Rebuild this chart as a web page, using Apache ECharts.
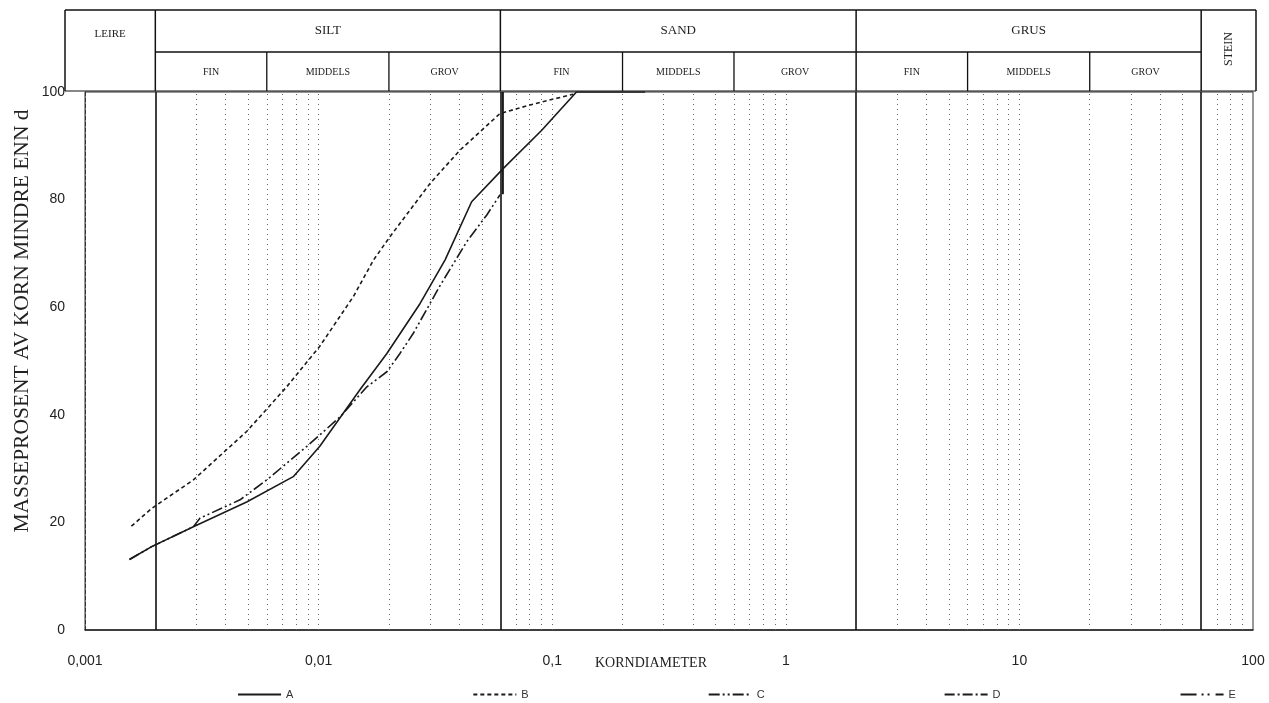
<!DOCTYPE html>
<html>
<head>
<meta charset="utf-8">
<script src="https://cdn.jsdelivr.net/npm/echarts@6/dist/echarts.min.js"></script>
<style>
html,body{margin:0;padding:0;background:#ffffff;}
#chart{width:1269px;height:703px;}
</style>
</head>
<body>
<div id="chart"></div>
<script>
// ---- data ----
const xTickValues = [0.001, 0.01, 0.1, 1, 10, 100];
const xTickLabels = ['0,001', '0,01', '0,1', '1', '10', '100'];
const yTickValues = [0, 20, 40, 60, 80, 100];

const seriesNames = ['A', 'B', 'C', 'D', 'E'];

const aX = [0.00155, 0.00193, 0.00291, 0.00492, 0.00779, 0.0101, 0.0150, 0.0196, 0.0272, 0.0348, 0.0452, 0.0618, 0.0902, 0.127, 0.25];
const aY = [13.1, 15.5, 19.2, 23.8, 28.5, 34.1, 44.6, 51.4, 60.7, 68.8, 79.6, 85.8, 92.9, 100, 100];

const bX = [0.00158, 0.00193, 0.00291, 0.00492, 0.0073, 0.0101, 0.0141, 0.0172, 0.0202, 0.030, 0.0403, 0.0598, 0.0804, 0.123];
const bY = [19.3, 22.6, 27.9, 36.9, 45.2, 52.7, 62.0, 68.8, 73.1, 83.0, 89.2, 96.0, 97.6, 99.6];

const cX = [0.00155, 0.00193, 0.00291, 0.00311, 0.00461, 0.0060, 0.00889, 0.01235, 0.0161, 0.0196, 0.0223, 0.0254, 0.0331, 0.0431, 0.0524, 0.0598];
const cY = [13.1, 15.5, 19.2, 20.8, 24.2, 27.9, 34.1, 39.6, 45.2, 48.0, 51.4, 55.1, 64.0, 72.2, 77.1, 80.9];

const cTailX = [0.0615, 0.0615];
const cTailY = [81, 100];

const dX = [], dY = [];
const eX = [], eY = [];

// fraction limits (header) and labels
const mainFractionNames = ['LEIRE', 'SILT', 'SAND', 'GRUS', 'STEIN'];
const mainFractionEdges = [0.002, 0.06, 2, 60];
const subFractionNames = ['FIN', 'MIDDELS', 'GROV'];
const subFractionEdges = [[0.002, 0.006, 0.02, 0.06], [0.06, 0.2, 0.6, 2], [2, 6, 20, 60]];

// log grid (minor lines at 2..9 of each decade)
const minorGrid = [];
[0.001, 0.01, 0.1, 1, 10].forEach(function (dec) {
  for (let k = 2; k <= 10; k++) {
    const v = +(dec * k).toPrecision(3);
    if (mainFractionEdges.indexOf(v) < 0 && v < 100) minorGrid.push(v);
  }
});

function zip(xs, ys) { return xs.map(function (x, i) { return [x, ys[i]]; }); }

const ink = '#1a1a1a';
const serif = '"Liberation Serif","DejaVu Serif",serif';
const sans = '"Liberation Sans",Arial,sans-serif';

const chart = echarts.init(document.getElementById('chart'), null, {renderer: 'canvas'});

const option = {
  animation: false,
  backgroundColor: '#ffffff',
  grid: {left: 85, right: 16, top: 92, bottom: 73, show: true, borderColor: '#333', borderWidth: 1},
  xAxis: {
    type: 'log', logBase: 10, min: 0.001, max: 100,
    axisLine: {show: true, lineStyle: {color: '#222', width: 1.5}},
    axisTick: {show: false},
    splitLine: {show: false},
    axisLabel: {
      margin: 24, fontSize: 14, color: '#222', fontFamily: sans,
      formatter: function (v) {
        const i = Math.round(Math.log10(v) + 3);
        return xTickLabels[i] !== undefined ? xTickLabels[i] : '';
      }
    }
  },
  yAxis: {
    type: 'value', min: 0, max: 100, interval: 20,
    axisLine: {show: true, lineStyle: {color: '#333', width: 1, type: [4, 2]}},
    axisTick: {show: false},
    splitLine: {show: false},
    axisLabel: {margin: 20, fontSize: 14, color: '#222', fontFamily: sans}
  },
  legend: {
    data: seriesNames,
    left: 232, top: 684,
    itemWidth: 43, itemHeight: 10, itemGap: 179,
    itemStyle: {opacity: 0, color: 'rgba(0,0,0,0)', borderWidth: 0},
    textStyle: {fontSize: 11, color: '#333', fontFamily: sans}
  },
  series: [
    {
      name: 'A', type: 'line', data: zip(aX, aY), symbol: 'none', smooth: false,
      lineStyle: {color: ink, width: 1.6, type: 'solid'}, itemStyle: {color: ink}, z: 5,
      markLine: {
        silent: true, symbol: ['none', 'none'], label: {show: false}, animation: false, precision: 8,
        data: minorGrid.map(function (v) {
          return {xAxis: v, lineStyle: {color: '#666', width: 1, type: [1, 4]}};
        }).concat(mainFractionEdges.map(function (v) {
          return {xAxis: v, lineStyle: {color: '#111', width: 1.6, type: 'solid'}};
        }))
      }
    },
    {
      name: 'B', type: 'line', data: zip(bX, bY), symbol: 'none',
      lineStyle: {color: ink, width: 1.6, type: [4, 3]}, itemStyle: {color: ink}, z: 5
    },
    {
      name: 'C', type: 'line', data: zip(cX, cY), symbol: 'none',
      lineStyle: {color: ink, width: 1.6, type: [11, 3, 2, 3, 2, 3]}, itemStyle: {color: ink}, z: 5
    },
    {
      name: 'C-tail', type: 'line', data: zip(cTailX, cTailY), symbol: 'none', legendHoverLink: false,
      lineStyle: {color: ink, width: 2, type: 'solid'}, itemStyle: {color: ink}, z: 5
    },
    {
      name: 'D', type: 'line', data: zip(dX, dY), symbol: 'none',
      lineStyle: {color: ink, width: 1.6, type: [10, 3, 2, 3]}, itemStyle: {color: ink}
    },
    {
      name: 'E', type: 'line', data: zip(eX, eY), symbol: 'none',
      lineStyle: {color: ink, width: 1.6, type: [16, 5, 2, 4, 2, 6]}, itemStyle: {color: ink}
    }
  ]
};
chart.setOption(option);

// ---- header table & free texts, positioned through the axis scale ----
function px(v) { return chart.convertToPixel({xAxisIndex: 0}, v); }
const yTop = 10, yMid = 52, yBot = 91;
const headerLeft = 65;
const headerRight = px(100) + 3;
const g = [];
function line(x1, y1, x2, y2, w) {
  g.push({type: 'line', silent: true, shape: {x1: x1, y1: y1, x2: x2, y2: y2}, style: {stroke: '#111', lineWidth: w || 1.5}});
}
function text(x, y, s, size, rot) {
  g.push({type: 'text', silent: true, x: x, y: y, rotation: rot || 0,
    style: {text: s, fill: '#222', font: size + 'px ' + serif, textAlign: 'center', textVerticalAlign: 'middle'}});
}
// outer frame
line(headerLeft, yTop, headerRight, yTop);
line(headerLeft, yTop, headerLeft, yBot);
line(headerRight, yTop, headerRight, yBot);
line(headerLeft, yBot, headerRight, yBot, 1.2);
// main dividers
mainFractionEdges.forEach(function (v) { line(px(v), yTop, px(v), yBot); });
// middle row line
line(px(mainFractionEdges[0]), yMid, px(mainFractionEdges[3]), yMid, 1.3);
// sub dividers
subFractionEdges.forEach(function (edges) {
  for (let i = 1; i < edges.length - 1; i++) line(px(edges[i]), yMid, px(edges[i]), yBot, 1.3);
});
// main names
const mainBounds = [headerLeft].concat(mainFractionEdges.map(px)).concat([headerRight]);
mainFractionNames.forEach(function (n, i) {
  const cx = (mainBounds[i] + mainBounds[i + 1]) / 2;
  if (n === 'LEIRE') text(cx, 34, n, 11);
  else if (n === 'STEIN') text(cx, 49, n, 12, Math.PI / 2);
  else text(cx, 31, n, 13);
});
// sub names
subFractionEdges.forEach(function (edges) {
  for (let i = 0; i < edges.length - 1; i++) {
    text((px(edges[i]) + px(edges[i + 1])) / 2, 72, subFractionNames[i], 10);
  }
});
// axis titles
text(651, 663, 'KORNDIAMETER', 14);
text(22, 321, 'MASSEPROSENT AV KORN MINDRE ENN d', 21.5, Math.PI / 2);

chart.setOption({graphic: g});
</script>
</body>
</html>
